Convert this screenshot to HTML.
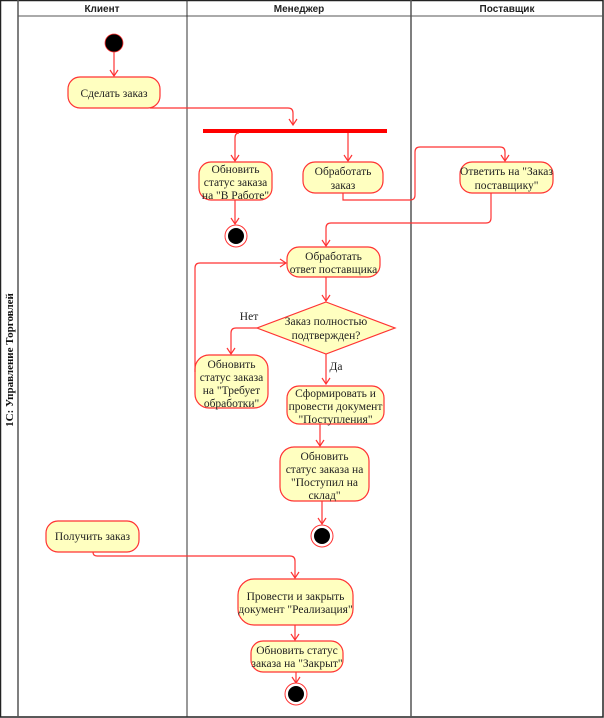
<!DOCTYPE html>
<html><head><meta charset="utf-8"><style>
html,body{margin:0;padding:0;background:#fff;}
svg{display:block;}
.n{fill:#ffffc0;stroke:#ff3333;stroke-width:1.2;}
.c{fill:none;stroke:#ff3333;stroke-width:1.2;}
.t{font-family:"Liberation Serif",serif;font-size:11.5px;fill:#222;text-anchor:middle;}
.h{font-family:"Liberation Sans",sans-serif;font-size:10px;font-weight:bold;fill:#222;text-anchor:middle;}
</style></head><body>
<svg width="604" height="718" viewBox="0 0 604 718" xmlns="http://www.w3.org/2000/svg">
<defs><marker id="a" markerWidth="10" markerHeight="10" refX="9" refY="5" orient="auto" markerUnits="userSpaceOnUse" viewBox="0 0 10 10"><path d="M3,1 L9,5 L3,9" fill="none" stroke="#ff3333" stroke-width="1.2"/></marker></defs>
<rect x="0.5" y="0.5" width="602.5" height="716.5" fill="none" stroke="#222" stroke-width="1.5"/>
<line x1="18" y1="0" x2="18" y2="717" stroke="#555" stroke-width="1.5"/>
<line x1="18" y1="16" x2="603" y2="16" stroke="#555" stroke-width="1"/>
<line x1="187" y1="0" x2="187" y2="717" stroke="#333" stroke-width="1"/>
<line x1="411" y1="0" x2="411" y2="717" stroke="#555" stroke-width="1.5"/>
<text class="h" x="102" y="12">Клиент</text>
<text class="h" x="299" y="12">Менеджер</text>
<text class="h" x="507" y="12">Поставщик</text>
<text transform="translate(13,360) rotate(-90)" style="font-family:'Liberation Serif',serif;font-size:11px;font-weight:bold;fill:#111;text-anchor:middle">1С: Управление Торговлей</text>

<circle cx="114" cy="43" r="9" fill="#000" stroke="#ff3333" stroke-width="0.8"/>
<line class="c" x1="114" y1="52" x2="114" y2="76" marker-end="url(#a)"/>
<rect class="n" x="68" y="77" width="92" height="31" rx="12"/>
<text class="t" x="114" y="97">Сделать заказ</text>
<path class="c" d="M150,108 L288,108 Q293,108 293,113 L293,125" marker-end="url(#a)"/>
<rect x="203" y="129" width="184" height="4" fill="#ff0000"/>
<path class="c" d="M239,133 Q235,133 235,138 L235,161" marker-end="url(#a)"/>
<line class="c" x1="348" y1="133" x2="348" y2="161" marker-end="url(#a)"/>

<rect class="n" x="199" y="162" width="73" height="38" rx="12"/>
<text class="t" x="235.5" y="173">Обновить</text>
<text class="t" x="235.5" y="186">статус заказа</text>
<text class="t" x="235.5" y="199">на "В Работе"</text>
<line class="c" x1="235" y1="200" x2="235" y2="224" marker-end="url(#a)"/>
<circle cx="236" cy="236" r="11" fill="#fff" stroke="#ff3333" stroke-width="1"/>
<circle cx="236" cy="236" r="8" fill="#000"/>

<rect class="n" x="303" y="162" width="80" height="31" rx="12"/>
<text class="t" x="343" y="175">Обработать</text>
<text class="t" x="343" y="189">заказ</text>
<path class="c" d="M343,193 L343,200 L410,200 Q415,200 415,195 L415,152 Q415,147 420,147 L500,147 Q505,147 505,152 L505,161" marker-end="url(#a)"/>
<rect class="n" x="460" y="162" width="93" height="31" rx="12"/>
<text class="t" x="506.5" y="175">Ответить на "Заказ</text>
<text class="t" x="506.5" y="189">поставщику"</text>
<path class="c" d="M491,193 L491,218 Q491,223 486,223 L331,223 Q326,223 326,228 L326,246" marker-end="url(#a)"/>

<rect class="n" x="287" y="247" width="93" height="30" rx="12"/>
<text class="t" x="333.5" y="260">Обработать</text>
<text class="t" x="333.5" y="273">ответ поставщика</text>
<line class="c" x1="326" y1="277" x2="326" y2="301" marker-end="url(#a)"/>
<polygon class="n" points="326,302 395,328 326,354 257,328"/>
<text class="t" x="326" y="325">Заказ полностью</text>
<text class="t" x="326" y="339">подтвержден?</text>
<text class="t" x="249" y="320">Нет</text>
<path class="c" d="M257,328 L236,328 Q231,328 231,333 L231,354" marker-end="url(#a)"/>
<rect class="n" x="195" y="355" width="73" height="53" rx="14"/>
<text class="t" x="231.5" y="368">Обновить</text>
<text class="t" x="231.5" y="381">статус заказа</text>
<text class="t" x="231.5" y="394">на "Требует</text>
<text class="t" x="231.5" y="407">обработки"</text>
<path class="c" d="M195,372 L195,268 Q195,263 200,263 L286,263" marker-end="url(#a)"/>
<line class="c" x1="326" y1="354" x2="326" y2="384" marker-end="url(#a)"/>
<text class="t" x="336" y="370">Да</text>

<rect class="n" x="287" y="386" width="97" height="38" rx="12"/>
<text class="t" x="335.5" y="397">Сформировать и</text>
<text class="t" x="335.5" y="410">провести документ</text>
<text class="t" x="335.5" y="423">"Поступления"</text>
<line class="c" x1="320" y1="424" x2="320" y2="446" marker-end="url(#a)"/>
<rect class="n" x="280" y="447" width="89" height="54" rx="14"/>
<text class="t" x="324.5" y="460">Обновить</text>
<text class="t" x="324.5" y="473">статус заказа на</text>
<text class="t" x="324.5" y="486">"Поступил на</text>
<text class="t" x="324.5" y="499">склад"</text>
<line class="c" x1="322" y1="501" x2="322" y2="524" marker-end="url(#a)"/>
<circle cx="322" cy="536" r="11" fill="#fff" stroke="#ff3333" stroke-width="1"/>
<circle cx="322" cy="536" r="8" fill="#000"/>

<rect class="n" x="46" y="521" width="93" height="31" rx="12"/>
<text class="t" x="92.5" y="540">Получить заказ</text>
<path class="c" d="M93,552 Q93,556 97,556 L290,556 Q295,556 295,561 L295,578" marker-end="url(#a)"/>
<rect class="n" x="238" y="579" width="115" height="46" rx="16"/>
<text class="t" x="295.5" y="600">Провести и закрыть</text>
<text class="t" x="295.5" y="613">документ "Реализация"</text>
<line class="c" x1="295" y1="625" x2="295" y2="640" marker-end="url(#a)"/>
<rect class="n" x="251" y="641" width="92" height="31" rx="12"/>
<text class="t" x="297" y="654">Обновить статус</text>
<text class="t" x="297" y="667">заказа на "Закрыт"</text>
<line class="c" x1="296" y1="672" x2="296" y2="683" marker-end="url(#a)"/>
<circle cx="296" cy="694" r="11" fill="#fff" stroke="#ff3333" stroke-width="1"/>
<circle cx="296" cy="694" r="8" fill="#000"/>
</svg>
</body></html>
